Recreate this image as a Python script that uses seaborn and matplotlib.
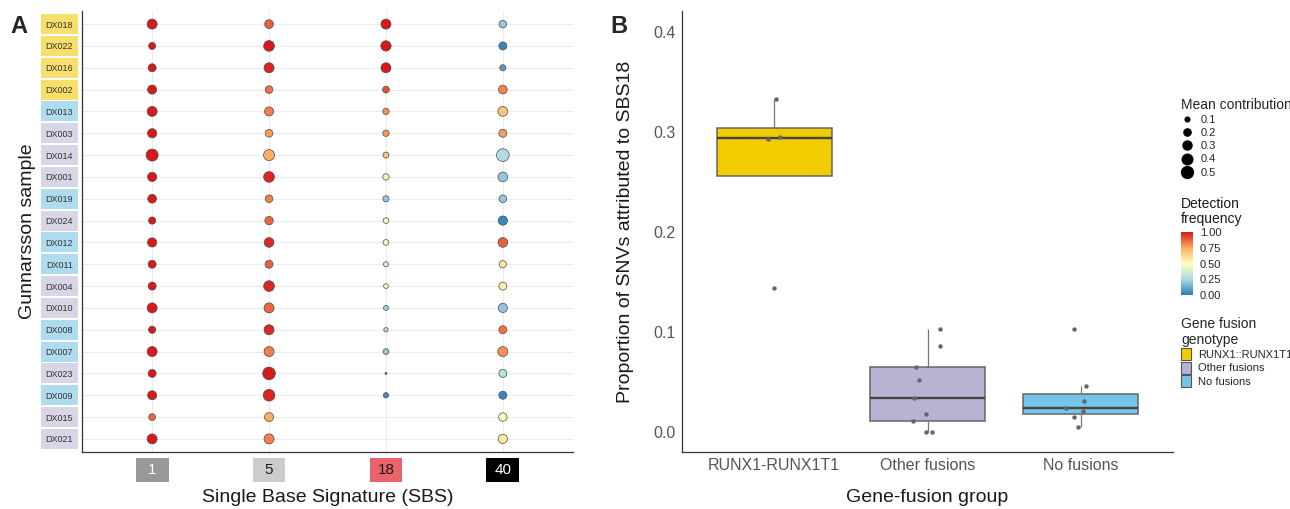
import matplotlib
matplotlib.use("Agg")
import matplotlib.pyplot as plt
import matplotlib.transforms as mtransforms
import matplotlib.cm as cm
from matplotlib.colors import LinearSegmentedColormap, Normalize
from matplotlib.lines import Line2D
from matplotlib.patches import Patch, Rectangle
import numpy as np
import pandas as pd
import seaborn as sns

# ---- data: panel A (dot plot) ----
samples = ["DX018", "DX022", "DX016", "DX002", "DX013", "DX003", "DX014", "DX001", "DX019", "DX024",
           "DX012", "DX011", "DX004", "DX010", "DX008", "DX007", "DX023", "DX009", "DX015", "DX021"]
genotype = ["RUNX1", "RUNX1", "RUNX1", "RUNX1", "None", "Other", "Other", "Other", "None", "Other",
            "None", "None", "Other", "Other", "None", "None", "Other", "None", "Other", "Other"]
signatures = ["1", "5", "18", "40"]

contrib_sbs1 = [0.36, 0.19, 0.24, 0.30, 0.36, 0.31, 0.51, 0.31, 0.28, 0.20,
                0.31, 0.24, 0.24, 0.36, 0.20, 0.36, 0.24, 0.30, 0.18, 0.36]
freq_sbs1 = [1.0, 1.0, 1.0, 1.0, 1.0, 1.0, 1.0, 1.0, 1.0, 1.0,
             1.0, 1.0, 1.0, 1.0, 1.0, 1.0, 1.0, 1.0, 0.87, 1.0]
contrib_sbs5 = [0.28, 0.41, 0.36, 0.22, 0.30, 0.22, 0.43, 0.41, 0.22, 0.26,
                0.34, 0.24, 0.41, 0.36, 0.36, 0.36, 0.56, 0.48, 0.30, 0.36]
freq_sbs5 = [0.88, 1.0, 0.98, 0.85, 0.83, 0.78, 0.75, 0.98, 0.83, 0.87,
             0.97, 0.88, 0.98, 0.87, 0.97, 0.83, 1.0, 0.98, 0.75, 0.83]
contrib_sbs18 = [0.36, 0.38, 0.36, 0.18, 0.16, 0.16, 0.15, 0.16, 0.15, 0.135,
                 0.135, 0.11, 0.10, 0.11, 0.09, 0.135, 0.04, 0.12, None, None]
freq_sbs18 = [1.0, 1.0, 1.0, 0.9, 0.8, 0.78, 0.7, 0.55, 0.2, 0.45,
              0.45, 0.38, 0.45, 0.22, 0.28, 0.2, 0.05, 0.05, None, None]
contrib_sbs40 = [0.22, 0.24, 0.15, 0.28, 0.34, 0.24, 0.56, 0.34, 0.22, 0.31,
                 0.34, 0.20, 0.24, 0.31, 0.24, 0.36, 0.24, 0.24, 0.26, 0.31]
freq_sbs40 = [0.2, 0.03, 0.08, 0.82, 0.68, 0.78, 0.27, 0.2, 0.2, 0.03,
              0.88, 0.57, 0.55, 0.2, 0.85, 0.8, 0.3, 0.03, 0.5, 0.57]

# ---- data: panel B (boxplot) ----
groups = ["RUNX1-RUNX1T1", "Other fusions", "No fusions"]
runx1_vals = [0.333, 0.295, 0.293, 0.144]
other_vals = [0.103, 0.086, 0.065, 0.052, 0.034, 0.018, 0.011, 0.0, 0.0]
nofusion_vals = [0.103, 0.046, 0.031, 0.024, 0.021, 0.015, 0.005]

# ---- styling ----
sns.set_style("white")
plt.rcParams["font.family"] = ["Liberation Sans", "DejaVu Sans"]

cmap = LinearSegmentedColormap.from_list(
    "detect", ["#2c7bb6", "#abd9e9", "#ffffbf", "#fdae61", "#d7191c"])
size_range = (0.5, 89)
size_norm = (0.03, 0.6)
box_colors = {"RUNX1": "#F0CC00", "Other": "#B7B3D3", "None": "#74C5E8"}
label_colors = {"RUNX1": "#F6DF6C", "Other": "#D8D5E6", "None": "#AEDCEE"}
sig_box_colors = ["#999999", "#cccccc", "#e8646a", "#000000"]
sig_text_colors = ["white", "#1a1a1a", "#1a1a1a", "white"]

rows = []
for sig, cvals, fvals in zip(signatures,
                             [contrib_sbs1, contrib_sbs5, contrib_sbs18, contrib_sbs40],
                             [freq_sbs1, freq_sbs5, freq_sbs18, freq_sbs40]):
    for s, c, f in zip(samples, cvals, fvals):
        if c is not None:
            rows.append({"sig": sig, "sample": s, "contrib": c, "freq": f})
df_a = pd.DataFrame(rows)

df_b = pd.DataFrame({
    "group": [groups[0]] * len(runx1_vals) + [groups[1]] * len(other_vals) + [groups[2]] * len(nofusion_vals),
    "value": runx1_vals + other_vals + nofusion_vals,
})

W, H = 1290, 509
fig = plt.figure(figsize=(W / 100, H / 100), dpi=100)

# ---- panel A ----
ax_a = fig.add_axes([82 / W, 1 - 452 / H, 491 / W, 441 / H])
ax_a.set_axisbelow(True)
ax_a.grid(True, color="#ebebeb", linewidth=0.7)
sns.scatterplot(data=df_a, x="sig", y="sample", hue="freq", hue_norm=(0, 1), palette=cmap,
                size="contrib", sizes=size_range, size_norm=size_norm,
                edgecolor="#4a4a4a", linewidth=0.5, legend=False, ax=ax_a, zorder=3)
ax_a.set_xlim(-0.6, len(signatures) - 0.4)
ax_a.set_ylim(len(samples) - 0.4, -0.6)
for side in ["top", "right"]:
    ax_a.spines[side].set_visible(False)
for side in ["left", "bottom"]:
    ax_a.spines[side].set_color("#333333")
    ax_a.spines[side].set_linewidth(0.9)

ax_a.tick_params(axis="y", length=2.5, width=0.6, color="#333333", pad=13.7,
                 labelsize=6.5, labelcolor="#333333")
plt.setp(ax_a.get_yticklabels(), ha="center")
ax_a.tick_params(axis="x", length=2.5, width=0.6, color="#333333", pad=10.5, labelsize=11)
plt.setp(ax_a.get_xticklabels(), va="center")
for lbl, tc in zip(ax_a.get_xticklabels(), sig_text_colors):
    lbl.set_color(tc)

trans_y = mtransforms.blended_transform_factory(ax_a.transAxes, ax_a.transData)
for i, g in enumerate(genotype):
    ax_a.add_patch(Rectangle((-0.0835, i - 0.46), 0.0754, 0.92, transform=trans_y,
                             clip_on=False, facecolor=label_colors[g], edgecolor="none", zorder=0.1))
trans_x = mtransforms.blended_transform_factory(ax_a.transData, ax_a.transAxes)
for j, bc in enumerate(sig_box_colors):
    ax_a.add_patch(Rectangle((j - 0.14, -0.0673), 0.28, 0.0537, transform=trans_x,
                             clip_on=False, facecolor=bc, edgecolor="none", zorder=0.1))

ax_a.set_xlabel("Single Base Signature (SBS)", fontsize=14, color="#1a1a1a")
ax_a.set_ylabel("Gunnarsson sample", fontsize=14, color="#1a1a1a")
ax_a.xaxis.set_label_coords(0.5, -0.084)
ax_a.yaxis.set_label_coords(-0.094, 0.5)

# ---- panel B ----
ax_b = fig.add_axes([682 / W, 1 - 452 / H, 491 / W, 441 / H])
group_palette = {groups[0]: box_colors["RUNX1"], groups[1]: box_colors["Other"],
                 groups[2]: box_colors["None"]}
sns.boxplot(data=df_b, x="group", y="value", order=groups, hue="group", palette=group_palette,
            saturation=1, width=0.75, showfliers=False, linecolor="#666666", linewidth=1.1,
            medianprops=dict(color="#444444", linewidth=1.7),
            whiskerprops=dict(color="#777777", linewidth=0.9),
            capprops=dict(linewidth=0), legend=False, ax=ax_b)
np.random.seed(3)
sns.stripplot(data=df_b, x="group", y="value", order=groups, color="#666666", size=3.2,
              jitter=0.1, ax=ax_b, zorder=3)
ax_b.set_xlim(-0.6, len(groups) - 0.4)
ax_b.set_ylim(-0.02, 0.421)
ax_b.set_yticks([0.0, 0.1, 0.2, 0.3, 0.4])
ax_b.set_yticklabels(["0.0", "0.1", "0.2", "0.3", "0.4"])
for side in ["top", "right"]:
    ax_b.spines[side].set_visible(False)
for side in ["left", "bottom"]:
    ax_b.spines[side].set_color("#333333")
    ax_b.spines[side].set_linewidth(0.9)
ax_b.tick_params(length=2.5, width=0.6, color="#333333", pad=2, labelsize=11.5,
                 labelcolor="#555555")
ax_b.set_xlabel("Gene-fusion group", fontsize=14, color="#1a1a1a")
ax_b.set_ylabel("Proportion of SNVs attributed to SBS18", fontsize=14, color="#1a1a1a")
ax_b.xaxis.set_label_coords(0.5, -0.084)
ax_b.yaxis.set_label_coords(-0.098, 0.5)

# ---- legends ----
leg_vals = [0.1, 0.2, 0.3, 0.4, 0.5]
size_handles = []
for v in leg_vals:
    s = size_range[0] + (v - size_norm[0]) / (size_norm[1] - size_norm[0]) * (size_range[1] - size_range[0])
    size_handles.append(Line2D([], [], marker="o", linestyle="", color="black", markersize=np.sqrt(s)))
fig.legend(size_handles, [str(v) for v in leg_vals], title="Mean contribution",
           loc="upper left", bbox_to_anchor=(1181 / W, 1 - 98 / H), frameon=False,
           fontsize=8, title_fontsize=10, alignment="left", borderaxespad=0, borderpad=0,
           labelspacing=0.28, handletextpad=0.8, handlelength=1.0)

fig.text(1181 / W, 1 - 197 / H, "Detection\nfrequency", va="top", ha="left", fontsize=10,
         linespacing=1.05, color="#1a1a1a")
cax = fig.add_axes([1181 / W, 1 - 295 / H, 12 / W, 63 / H])
cb = fig.colorbar(cm.ScalarMappable(norm=Normalize(0, 1), cmap=cmap), cax=cax,
                  ticks=[0, 0.25, 0.5, 0.75, 1.0])
cb.outline.set_visible(False)
cax.set_yticklabels(["0.00", "0.25", "0.50", "0.75", "1.00"])
cax.tick_params(length=0, labelsize=8, pad=5)

geno_handles = [Patch(facecolor=box_colors[g], edgecolor="#555555", linewidth=0.8)
                for g in ["RUNX1", "Other", "None"]]
fig.legend(geno_handles, ["RUNX1::RUNX1T1", "Other fusions", "No fusions"],
           title="Gene fusion\ngenotype", loc="upper left", bbox_to_anchor=(1181 / W, 1 - 317 / H),
           frameon=False, fontsize=8, title_fontsize=10, alignment="left", borderaxespad=0,
           borderpad=0, labelspacing=0.1, handletextpad=0.6, handlelength=0.9, handleheight=1.3)

fig.text(10 / W, 1 - 33 / H, "A", fontsize=17, fontweight="bold")
fig.text(610 / W, 1 - 33 / H, "B", fontsize=17, fontweight="bold")

fig.savefig("out.png", dpi=100)
